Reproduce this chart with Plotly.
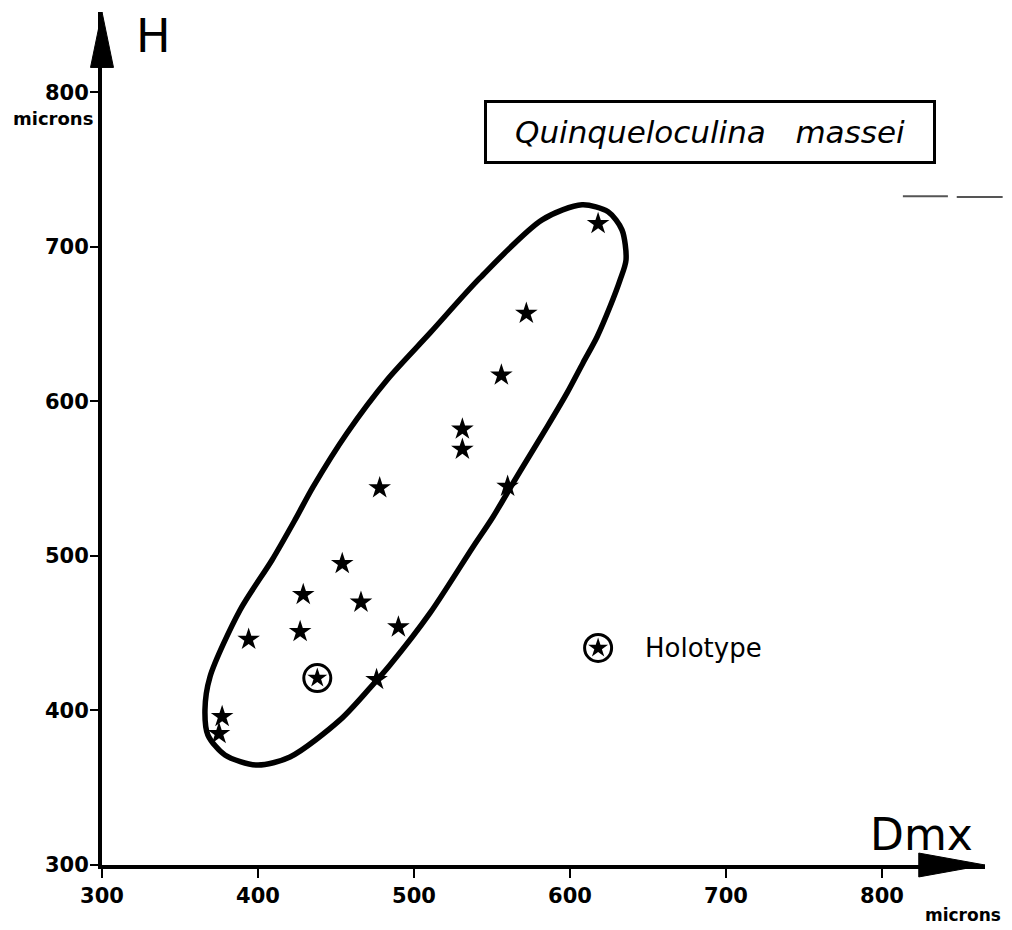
import plotly.graph_objects as go

# measured points, Dmx vs H in microns
dmx = [618, 572, 556, 531, 531, 478, 560, 454, 429, 466, 427, 490, 394, 476, 377, 375]
h = [715, 657, 617, 582, 569, 544, 545, 495, 475, 470, 451, 454, 446, 420, 396, 385]

holo_dmx = [438]
holo_h = [421]

# hand-traced outline of the scatter envelope
env_x = [607.7, 624.4, 633.3, 635.9, 632.1, 625.6, 617.3, 608.3, 598.1, 585.3, 572.4, 563.5,
         550.6, 537.8, 510.3, 484.6, 471.8, 452.6, 420.5, 399.4, 378.8, 367.9, 366.0, 369.2,
         388.5, 409.0, 423.7, 435.3, 457.1, 482.7, 510.3, 542.3, 582.1, 607.7]
env_y = [727.2, 722.7, 711.0, 691.6, 678.6, 661.2, 641.7, 624.9, 605.5, 583.5, 562.1, 547.2,
         525.2, 505.8, 463.1, 429.4, 414.6, 393.9, 369.9, 364.7, 371.2, 384.1, 400.3, 421.7,
         465.0, 497.4, 523.3, 544.7, 579.6, 613.9, 644.3, 679.9, 717.5, 727.2]

ticks = [300, 400, 500, 600, 700, 800]
legend_x = [618]
legend_y = [440.5]

font = "DejaVu Sans"

fig = go.Figure()
fig.add_trace(go.Scatter(x=env_x, y=env_y, mode="lines",
                         line=dict(color="black", width=5.5, shape="spline", smoothing=0.8)))
fig.add_trace(go.Scatter(x=dmx, y=h, mode="markers",
                         marker=dict(symbol="star", size=17, color="black")))
fig.add_trace(go.Scatter(x=holo_dmx + legend_x, y=holo_h + legend_y, mode="markers",
                         marker=dict(symbol="star", size=15, color="black")))
fig.add_trace(go.Scatter(x=holo_dmx + legend_x, y=holo_h + legend_y, mode="markers",
                         marker=dict(symbol="circle-open", size=27, color="black",
                                     line=dict(width=3, color="black"))))

# the page body adds an 8px offset, so the figure is 8px smaller than the window
fig.update_layout(
    width=1004, height=922,
    margin=dict(l=94, r=27, t=4, b=65),
    paper_bgcolor="white", plot_bgcolor="white",
    showlegend=False,
    xaxis=dict(range=[300, 866], tickvals=ticks, ticktext=[str(t) for t in ticks],
               showgrid=False, zeroline=False, showline=True, linecolor="black", linewidth=4,
               ticks="outside", ticklen=9, tickwidth=2, tickcolor="black",
               tickfont=dict(family=font, size=21, color="black", weight="bold")),
    yaxis=dict(range=[300, 852], tickvals=ticks, ticktext=[str(t) for t in ticks],
               showgrid=False, zeroline=False, showline=True, linecolor="black", linewidth=4,
               ticks="outside", ticklen=8, tickwidth=2, tickcolor="black",
               ticklabelstandoff=-3,
               tickfont=dict(family=font, size=21, color="black", weight="bold")),
)

# arrow heads on the axes
fig.add_shape(type="path", xref="paper", yref="paper",
              path="M 0.925,0.014 L 1.0,0 L 0.925,-0.014 Z",
              fillcolor="black", line=dict(color="black", width=1))
fig.add_shape(type="path", xref="paper", yref="paper",
              path="M -0.013,0.935 L 0,1.0 L 0.013,0.935 Z",
              fillcolor="black", line=dict(color="black", width=1))

# faint scan dashes at the right edge
fig.add_shape(type="line", xref="paper", yref="paper", x0=0.907, x1=0.958, y0=0.784, y1=0.784,
              line=dict(color="#555555", width=2))
fig.add_shape(type="line", xref="paper", yref="paper", x0=0.968, x1=1.02, y0=0.783, y1=0.783,
              line=dict(color="#555555", width=2))

fig.add_annotation(text="H", xref="paper", yref="paper", x=0.058, y=1.006,
                   xanchor="center", yanchor="top", showarrow=False,
                   font=dict(family=font, size=46, color="black"))
fig.add_annotation(text="Dmx", xref="paper", yref="paper", x=0.989, y=0.004,
                   xanchor="right", yanchor="bottom", showarrow=False,
                   font=dict(family=font, size=44, color="black"))
fig.add_annotation(text="microns", xref="paper", yref="y", x=-0.055, y=783,
                   xanchor="center", yanchor="middle", showarrow=False,
                   font=dict(family=font, size=18, color="black", weight="bold"))
fig.add_annotation(text="microns", xref="paper", yref="paper", x=1.02, y=-0.0586,
                   xanchor="right", yanchor="middle", showarrow=False,
                   font=dict(family=font, size=17, color="black", weight="bold"))
fig.add_annotation(text="Holotype", xref="x", yref="y", x=647, y=legend_y[0],
                   xanchor="left", yanchor="middle", showarrow=False,
                   font=dict(family=font, size=26, color="black"))

fig.add_annotation(text="<i>Quinqueloculina&nbsp;&nbsp;&nbsp;massei</i>",
                   xref="paper", yref="paper", x=0.6886, y=0.8593,
                   xanchor="center", yanchor="middle", showarrow=False,
                   font=dict(family=font, size=31, color="black"),
                   bordercolor="black", borderwidth=3, borderpad=9, bgcolor="white",
                   width=428, height=40)

fig.write_html("out.html")
